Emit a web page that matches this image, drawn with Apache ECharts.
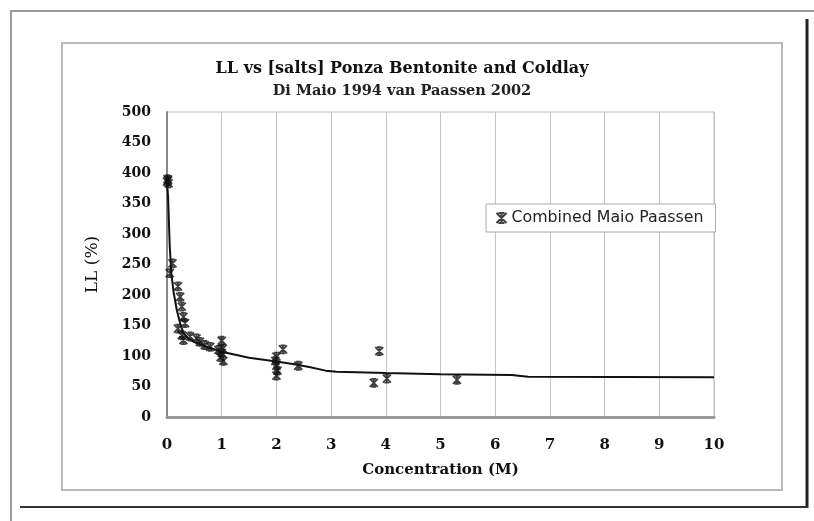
<!DOCTYPE html>
<html>
<head>
<meta charset="utf-8">
<script src="https://cdn.jsdelivr.net/npm/echarts@6/dist/echarts.min.js"></script>
<style>html,body{margin:0;padding:0;background:#fff}#c{width:814px;height:521px}</style>
</head>
<body>
<div id="c"></div>
<script>
// Data
var titleText = 'LL vs [salts] Ponza Bentonite and Coldlay';
var subtitleText = 'Di Maio 1994 van Paassen 2002';
var seriesName = 'Combined Maio Paassen';
var xName = 'Concentration (M)';
var yName = 'LL (%)';
var xTicks = [0,1,2,3,4,5,6,7,8,9,10];
var yTicks = [0,50,100,150,200,250,300,350,400,450,500];

var scatterX = [0, 0.01, 0.02, 0.03, 0.05, 0.1, 0.2, 0.24, 0.27, 0.3, 0.33, 0.2, 0.27, 0.3, 0.42, 0.54, 0.6, 0.69, 0.79, 0.94,
  1.0, 1.02, 1.0, 0.98, 1.03, 2.0, 1.98, 2.0, 2.02, 2.0, 2.12, 2.4, 3.88, 3.78, 4.02, 5.3];
var scatterY = [386, 390, 388, 383, 236, 252, 214, 197, 181, 164, 154, 145, 134, 126, 132, 129, 123, 118, 115, 110,
  125, 112, 105, 98, 92, 99, 92, 84, 76, 68, 111, 84, 108, 56, 63, 61];

var fitX = [0, 0.02, 0.05, 0.08, 0.12, 0.18, 0.25, 0.3, 0.4, 0.5, 0.7, 1, 1.5, 2, 2.3, 2.6, 2.9, 3.1, 4, 5, 6.3, 6.6, 10];
var fitY = [386, 360, 280, 235, 205, 175, 150, 138, 128, 123, 116, 107, 97, 91, 87, 82, 76, 74, 72, 70, 69, 66, 65];

var scatterData = scatterX.map(function (x, i) { return [x, scatterY[i]]; });
var fitData = fitX.map(function (x, i) { return [x, fitY[i]]; });

var starPath = 'path://M0,0L10,10M10,0L0,10M5,0L5,10M2,0L8,0M2,10L8,10';

var chart = echarts.init(document.getElementById('c'), null, {renderer: 'canvas'});
chart.setOption({
  backgroundColor: '#fff',
  animation: false,
  title: {
    text: titleText,
    subtext: subtitleText,
    left: 397,
    top: 56,
    textAlign: 'center',
    itemGap: 7,
    textStyle: {fontFamily: 'DejaVu Serif', fontSize: 16, fontWeight: 'bold', color: '#111'},
    subtextStyle: {fontFamily: 'DejaVu Serif', fontSize: 14.5, fontWeight: 'bold', color: '#222'}
  },
  legend: {
    data: [seriesName],
    left: 486,
    top: 204,
    padding: [6, 12, 6, 8],
    backgroundColor: '#fff',
    borderColor: '#aaa',
    borderWidth: 1,
    borderRadius: 0,
    itemWidth: 10,
    itemHeight: 10,
    itemGap: 5,
    textStyle: {fontFamily: 'DejaVu Sans', fontSize: 15.8, color: '#222'}
  },
  grid: {
    left: 167, top: 112, right: 100, bottom: 104,
    show: true, borderColor: '#bbb', borderWidth: 1, backgroundColor: '#fff'
  },
  xAxis: {
    type: 'value',
    min: 0, max: 10, interval: 1,
    name: xName,
    nameLocation: 'middle',
    nameGap: 46,
    nameTextStyle: {fontFamily: 'DejaVu Serif', fontSize: 15, fontWeight: 'bold', color: '#111'},
    axisLine: {show: true, onZero: false, lineStyle: {color: '#999', width: 3}},
    axisTick: {show: false},
    axisLabel: {
      margin: 21, fontFamily: 'DejaVu Serif', fontSize: 15, fontWeight: 'bold', color: '#111',
      formatter: function (v) { return xTicks.indexOf(v) >= 0 ? String(v) : ''; }
    },
    splitLine: {show: true, lineStyle: {color: '#c4c4c4', width: 1}}
  },
  yAxis: {
    type: 'value',
    min: 0, max: 500, interval: 50,
    name: yName,
    nameLocation: 'middle',
    nameGap: 66,
    nameTextStyle: {fontFamily: 'DejaVu Serif', fontSize: 17, color: '#111'},
    axisLine: {show: true, onZero: false, lineStyle: {color: '#888', width: 2}},
    axisTick: {show: false},
    axisLabel: {
      margin: 16, fontFamily: 'DejaVu Serif', fontSize: 14, fontWeight: 'bold', color: '#111',
      formatter: function (v) { return yTicks.indexOf(v) >= 0 ? String(v) : ''; }
    },
    splitLine: {show: false}
  },
  graphic: [
    {type: 'line', shape: {x1: 10, y1: 11, x2: 814, y2: 11}, style: {stroke: '#9a9a9a', lineWidth: 2}, silent: true},
    {type: 'line', shape: {x1: 11, y1: 10, x2: 11, y2: 521}, style: {stroke: '#9a9a9a', lineWidth: 2}, silent: true},
    {type: 'line', shape: {x1: 807, y1: 19, x2: 807, y2: 508}, style: {stroke: '#222', lineWidth: 3}, silent: true},
    {type: 'line', shape: {x1: 20, y1: 507, x2: 808, y2: 507}, style: {stroke: '#333', lineWidth: 2}, silent: true},
    {type: 'rect', shape: {x: 62, y: 43, width: 720, height: 447}, style: {fill: 'none', stroke: '#b8b8b8', lineWidth: 2}, silent: true, z: -10}
  ],
  series: [
    {
      name: 'fit',
      type: 'line',
      data: fitData,
      showSymbol: false,
      symbol: 'none',
      lineStyle: {color: '#111', width: 2},
      z: 3
    },
    {
      name: seriesName,
      type: 'scatter',
      data: scatterData,
      symbol: starPath,
      symbolSize: 8,
      itemStyle: {color: 'none', borderColor: '#111', borderWidth: 1.8},
      z: 4
    }
  ]
});
</script>
</body>
</html>
